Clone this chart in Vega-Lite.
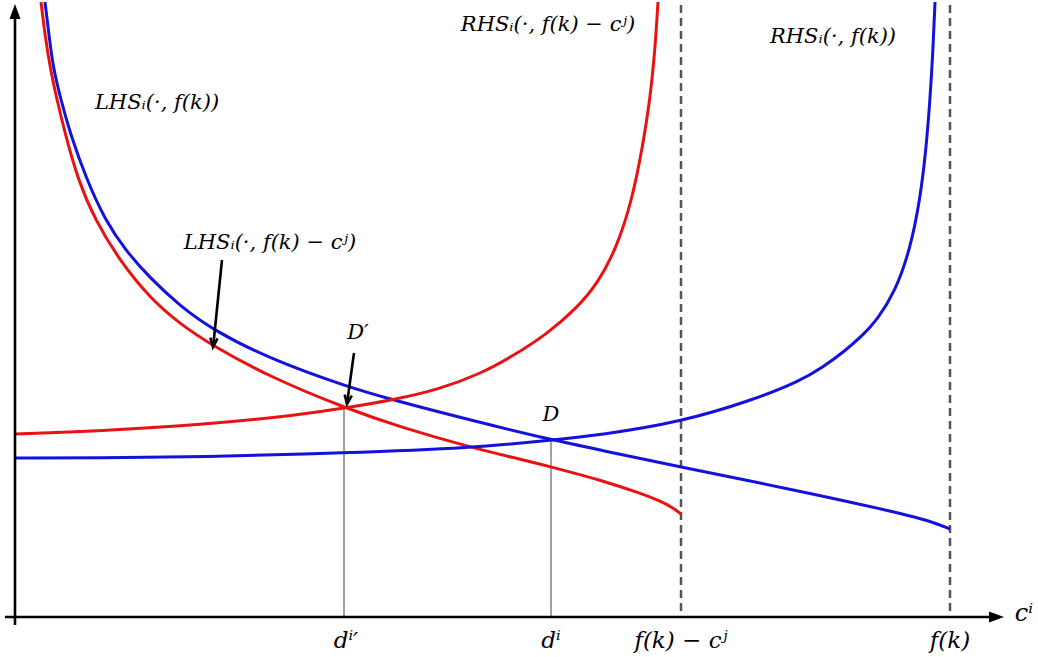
{
  "$schema": "https://vega.github.io/schema/vega-lite/v6.json",
  "width": 1038,
  "height": 657,
  "padding": 0,
  "autosize": {"type": "none"},
  "background": "white",
  "config": {"view": {"stroke": null}},
  "datasets": {
    "curves": [
      {"s": "blueLHS", "px": 45, "py": 2}, {"s": "blueLHS", "px": 49, "py": 35}, {"s": "blueLHS", "px": 53, "py": 67}, {"s": "blueLHS", "px": 61, "py": 100}, {"s": "blueLHS", "px": 70, "py": 133}, {"s": "blueLHS", "px": 86, "py": 178}, {"s": "blueLHS", "px": 105, "py": 220}, {"s": "blueLHS", "px": 126, "py": 251}, {"s": "blueLHS", "px": 150, "py": 278}, {"s": "blueLHS", "px": 180, "py": 306}, {"s": "blueLHS", "px": 213, "py": 330}, {"s": "blueLHS", "px": 270, "py": 359}, {"s": "blueLHS", "px": 345, "py": 386}, {"s": "blueLHS", "px": 393, "py": 400}, {"s": "blueLHS", "px": 470, "py": 420}, {"s": "blueLHS", "px": 552, "py": 440}, {"s": "blueLHS", "px": 600, "py": 450}, {"s": "blueLHS", "px": 681, "py": 467}, {"s": "blueLHS", "px": 800, "py": 491}, {"s": "blueLHS", "px": 900, "py": 513}, {"s": "blueLHS", "px": 930, "py": 521}, {"s": "blueLHS", "px": 950, "py": 529},
      {"s": "redLHS", "px": 41, "py": 2}, {"s": "redLHS", "px": 45, "py": 35}, {"s": "redLHS", "px": 50, "py": 67}, {"s": "redLHS", "px": 57, "py": 100}, {"s": "redLHS", "px": 65, "py": 133}, {"s": "redLHS", "px": 78, "py": 180}, {"s": "redLHS", "px": 95, "py": 220}, {"s": "redLHS", "px": 120, "py": 261}, {"s": "redLHS", "px": 150, "py": 298}, {"s": "redLHS", "px": 180, "py": 324}, {"s": "redLHS", "px": 213, "py": 346}, {"s": "redLHS", "px": 270, "py": 377}, {"s": "redLHS", "px": 345, "py": 408}, {"s": "redLHS", "px": 400, "py": 427}, {"s": "redLHS", "px": 473, "py": 448}, {"s": "redLHS", "px": 520, "py": 459}, {"s": "redLHS", "px": 563, "py": 470}, {"s": "redLHS", "px": 600, "py": 480}, {"s": "redLHS", "px": 640, "py": 493}, {"s": "redLHS", "px": 660, "py": 501}, {"s": "redLHS", "px": 672, "py": 507}, {"s": "redLHS", "px": 681, "py": 514},
      {"s": "redRHS", "px": 15, "py": 434}, {"s": "redRHS", "px": 100, "py": 431}, {"s": "redRHS", "px": 200, "py": 425}, {"s": "redRHS", "px": 300, "py": 415}, {"s": "redRHS", "px": 345, "py": 408}, {"s": "redRHS", "px": 393, "py": 400}, {"s": "redRHS", "px": 440, "py": 389}, {"s": "redRHS", "px": 480, "py": 374}, {"s": "redRHS", "px": 513, "py": 356}, {"s": "redRHS", "px": 547, "py": 334}, {"s": "redRHS", "px": 577, "py": 308}, {"s": "redRHS", "px": 598, "py": 283}, {"s": "redRHS", "px": 617, "py": 247}, {"s": "redRHS", "px": 632, "py": 200}, {"s": "redRHS", "px": 642, "py": 150}, {"s": "redRHS", "px": 650, "py": 100}, {"s": "redRHS", "px": 655, "py": 50}, {"s": "redRHS", "px": 658, "py": 2},
      {"s": "blueRHS", "px": 15, "py": 458}, {"s": "blueRHS", "px": 100, "py": 458}, {"s": "blueRHS", "px": 200, "py": 457}, {"s": "blueRHS", "px": 345, "py": 453}, {"s": "blueRHS", "px": 473, "py": 448}, {"s": "blueRHS", "px": 552, "py": 440}, {"s": "blueRHS", "px": 600, "py": 435}, {"s": "blueRHS", "px": 681, "py": 422}, {"s": "blueRHS", "px": 753, "py": 400}, {"s": "blueRHS", "px": 800, "py": 381}, {"s": "blueRHS", "px": 823, "py": 367}, {"s": "blueRHS", "px": 845, "py": 351}, {"s": "blueRHS", "px": 863, "py": 335}, {"s": "blueRHS", "px": 877, "py": 320}, {"s": "blueRHS", "px": 895, "py": 292}, {"s": "blueRHS", "px": 910, "py": 250}, {"s": "blueRHS", "px": 920, "py": 200}, {"s": "blueRHS", "px": 926, "py": 150}, {"s": "blueRHS", "px": 930, "py": 100}, {"s": "blueRHS", "px": 933, "py": 50}, {"s": "blueRHS", "px": 935, "py": 2}
    ],
    "segments": [
      {"kind": "axis", "x1": 15, "y1": 625, "x2": 15, "y2": 14},
      {"kind": "axis", "x1": 5, "y1": 617, "x2": 993, "y2": 617},
      {"kind": "axis", "x1": 222, "y1": 260, "x2": 213.5, "y2": 343},
      {"kind": "axis", "x1": 354, "y1": 353, "x2": 347.5, "y2": 400},
      {"kind": "guide", "x1": 344, "y1": 408, "x2": 344, "y2": 617},
      {"kind": "guide", "x1": 551, "y1": 440, "x2": 551, "y2": 617},
      {"kind": "dash", "x1": 681, "y1": 5, "x2": 681, "y2": 617},
      {"kind": "dash", "x1": 950, "y1": 5, "x2": 950, "y2": 617}
    ],
    "heads": [
      {"kind": "axisUp", "px": 15, "py": 4, "ang": 0},
      {"kind": "axisRight", "px": 1004, "py": 617, "ang": 0},
      {"kind": "vee", "px": 213, "py": 347, "ang": 6},
      {"kind": "vee", "px": 347, "py": 404, "ang": 8}
    ],
    "labels": [
      {"t": "LHSᵢ(·, f(k))", "px": 157, "py": 103, "fs": 21},
      {"t": "LHSᵢ(·, f(k) − cʲ)", "px": 270, "py": 243, "fs": 21},
      {"t": "RHSᵢ(·, f(k) − cʲ)", "px": 548, "py": 25, "fs": 21},
      {"t": "RHSᵢ(·, f(k))", "px": 833, "py": 37, "fs": 21},
      {"t": "D′", "px": 358, "py": 333, "fs": 21},
      {"t": "D", "px": 551, "py": 415, "fs": 21},
      {"t": "dⁱ′", "px": 346, "py": 641, "fs": 23},
      {"t": "dⁱ", "px": 551, "py": 641, "fs": 23},
      {"t": "f(k) − cʲ", "px": 681, "py": 641, "fs": 23},
      {"t": "f(k)", "px": 950, "py": 641, "fs": 23},
      {"t": "cⁱ", "px": 1024, "py": 614, "fs": 24}
    ]
  },
  "layer": [
    {
      "data": {"name": "segments"},
      "transform": [{"filter": "datum.kind === 'guide'"}],
      "mark": {"type": "rule", "color": "#8a8a8a", "strokeWidth": 1.6},
      "encoding": {
        "x": {"field": "x1", "type": "quantitative", "scale": {"domain": [0, 1038], "nice": false, "zero": false}, "axis": null},
        "y": {"field": "y1", "type": "quantitative", "scale": {"domain": [0, 657], "nice": false, "zero": false, "reverse": true}, "axis": null},
        "x2": {"field": "x2"},
        "y2": {"field": "y2"}
      }
    },
    {
      "data": {"name": "segments"},
      "transform": [{"filter": "datum.kind === 'dash'"}],
      "mark": {"type": "rule", "color": "#555555", "strokeWidth": 2.5, "strokeDash": [8, 5]},
      "encoding": {
        "x": {"field": "x1", "type": "quantitative", "axis": null},
        "y": {"field": "y1", "type": "quantitative", "axis": null},
        "x2": {"field": "x2"},
        "y2": {"field": "y2"}
      }
    },
    {
      "data": {"name": "curves"},
      "mark": {"type": "line", "strokeWidth": 3, "interpolate": "basis", "clip": true},
      "encoding": {
        "x": {"field": "px", "type": "quantitative", "axis": null},
        "y": {"field": "py", "type": "quantitative", "axis": null},
        "detail": {"field": "s"},
        "color": {
          "field": "s", "type": "nominal", "legend": null,
          "scale": {"domain": ["blueLHS", "redLHS", "redRHS", "blueRHS"], "range": ["#1212dc", "#e81212", "#e81212", "#1212dc"]}
        }
      }
    },
    {
      "data": {"name": "segments"},
      "transform": [{"filter": "datum.kind === 'axis'"}],
      "mark": {"type": "rule", "color": "black", "strokeWidth": 2.6},
      "encoding": {
        "x": {"field": "x1", "type": "quantitative", "axis": null},
        "y": {"field": "y1", "type": "quantitative", "axis": null},
        "x2": {"field": "x2"},
        "y2": {"field": "y2"}
      }
    },
    {
      "data": {"name": "heads"},
      "transform": [{"filter": "datum.kind === 'axisUp'"}],
      "mark": {"type": "point", "shape": "M0,0L-0.55,1.5L0.55,1.5Z", "filled": true, "color": "black", "opacity": 1, "size": 400},
      "encoding": {
        "x": {"field": "px", "type": "quantitative", "axis": null},
        "y": {"field": "py", "type": "quantitative", "axis": null}
      }
    },
    {
      "data": {"name": "heads"},
      "transform": [{"filter": "datum.kind === 'axisRight'"}],
      "mark": {"type": "point", "shape": "M0,0L-1.5,-0.55L-1.5,0.55Z", "filled": true, "color": "black", "opacity": 1, "size": 400},
      "encoding": {
        "x": {"field": "px", "type": "quantitative", "axis": null},
        "y": {"field": "py", "type": "quantitative", "axis": null}
      }
    },
    {
      "data": {"name": "heads"},
      "transform": [{"filter": "datum.kind === 'vee'"}],
      "mark": {"type": "point", "shape": "M-0.6,-1.5L0,0L0.6,-1.5", "filled": false, "stroke": "black", "strokeWidth": 2.6, "opacity": 1, "size": 144},
      "encoding": {
        "x": {"field": "px", "type": "quantitative", "axis": null},
        "y": {"field": "py", "type": "quantitative", "axis": null},
        "angle": {"field": "ang", "type": "quantitative", "scale": null}
      }
    },
    {
      "data": {"name": "labels"},
      "mark": {"type": "text", "font": "DejaVu Serif", "fontStyle": "italic", "color": "#000000", "align": "center", "baseline": "middle"},
      "encoding": {
        "x": {"field": "px", "type": "quantitative", "axis": null},
        "y": {"field": "py", "type": "quantitative", "axis": null},
        "text": {"field": "t"},
        "size": {"field": "fs", "type": "quantitative", "scale": null}
      }
    }
  ]
}
